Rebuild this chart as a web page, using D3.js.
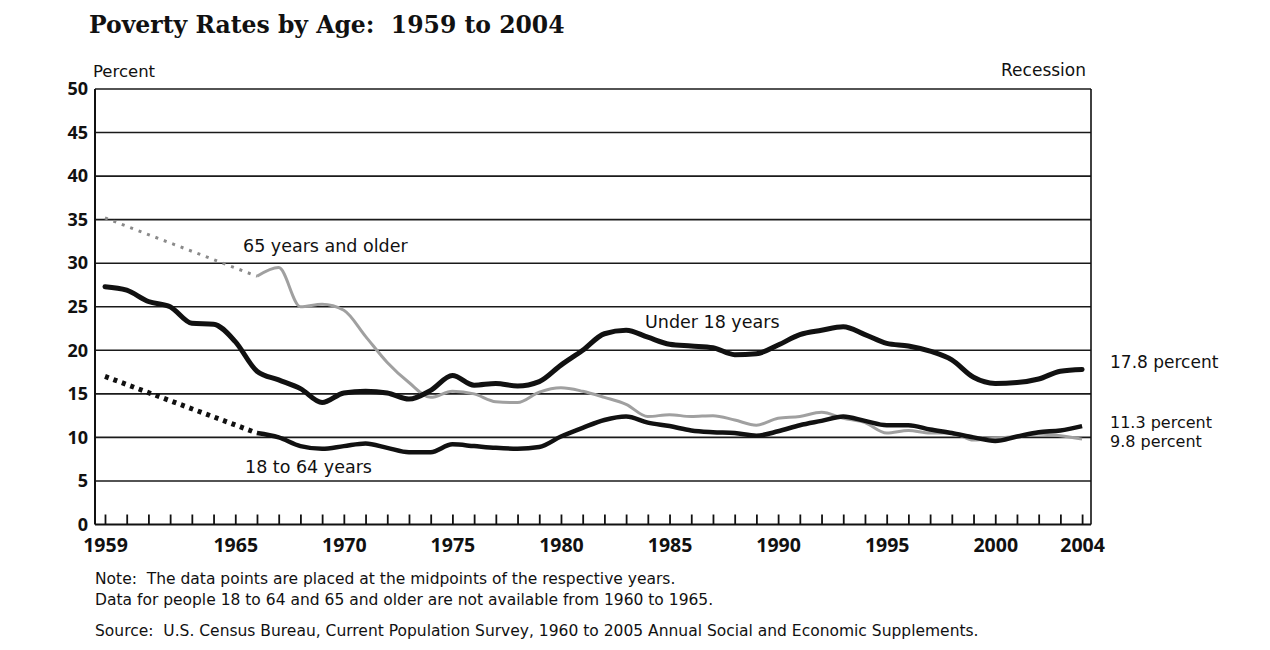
<!DOCTYPE html>
<html lang="en">
<head>
<meta charset="UTF-8">
<title>Poverty Rates by Age</title>
<style>
  body { margin: 0; background: #fff; }
  svg text { font-family: "DejaVu Sans", sans-serif; fill: #111; white-space: pre; }
</style>
</head>
<body>
<svg id="chart" width="1270" height="650"></svg>
<script src="https://d3js.org/d3.v7.min.js"></script>
<script>
// years, one point per year (placed at year midpoints in the original)
var years = d3.range(1959, 2005);

var under18 = [27.3, 26.9, 25.6, 25.0, 23.1, 23.0, 21.0, 17.6, 16.6, 15.6,
  14.0, 15.1, 15.3, 15.1, 14.4, 15.4, 17.1, 16.0, 16.2, 15.9,
  16.4, 18.3, 20.0, 21.9, 22.3, 21.5, 20.7, 20.5, 20.3, 19.5,
  19.6, 20.6, 21.8, 22.3, 22.7, 21.8, 20.8, 20.5, 19.9, 18.9,
  16.9, 16.2, 16.3, 16.7, 17.6, 17.8];

// no data 1960 to 1965 for the two adult groups
var age18to64 = [17.0, null, null, null, null, null, null, 10.5, 10.0, 9.0,
  8.7, 9.0, 9.3, 8.8, 8.3, 8.3, 9.2, 9.0, 8.8, 8.7,
  8.9, 10.1, 11.1, 12.0, 12.4, 11.7, 11.3, 10.8, 10.6, 10.5,
  10.2, 10.7, 11.4, 11.9, 12.4, 11.9, 11.4, 11.4, 10.9, 10.5,
  10.0, 9.6, 10.1, 10.6, 10.8, 11.3];

var age65 = [35.2, null, null, null, null, null, null, 28.5, 29.5, 25.0,
  25.3, 24.6, 21.6, 18.6, 16.3, 14.6, 15.3, 15.0, 14.1, 14.0,
  15.2, 15.7, 15.3, 14.6, 13.8, 12.4, 12.6, 12.4, 12.5, 12.0,
  11.4, 12.2, 12.4, 12.9, 12.2, 11.7, 10.5, 10.8, 10.5, 10.5,
  9.7, 9.9, 10.1, 10.4, 10.2, 9.8];

var yTicks = [0, 5, 10, 15, 20, 25, 30, 35, 40, 45, 50];
var xLabelYears = [1959, 1965, 1970, 1975, 1980, 1985, 1990, 1995, 2000, 2004];

var svg = d3.select('#chart');

var plotLeft = 95, plotRight = 1091, plotTop = 89, plotBottom = 524.5;

var x = d3.scaleLinear().domain([1958.54, 2004.41]).range([plotLeft, plotRight]);
var y = d3.scaleLinear().domain([0, 50]).range([plotBottom, plotTop]);

// title
svg.append('text')
  .attr('x', 89).attr('y', 33)
  .style('font-family', '"DejaVu Serif", serif')
  .style('font-weight', 'bold')
  .style('font-size', '23.5px')
  .text('Poverty Rates by Age:  1959 to 2004');

svg.append('text').attr('x', 93).attr('y', 77)
  .style('font-size', '16.5px').text('Percent');
svg.append('text').attr('x', 1086).attr('y', 76)
  .attr('text-anchor', 'end')
  .style('font-size', '17px').text('Recession');

// gridlines
svg.append('g').selectAll('line')
  .data(yTicks.filter(function (d) { return d > 0; }))
  .join('line')
  .attr('x1', plotLeft).attr('x2', plotRight)
  .attr('y1', function (d) { return y(d); })
  .attr('y2', function (d) { return y(d); })
  .attr('stroke', '#1a1a1a')
  .attr('stroke-width', 1.6);

// side borders
svg.append('line').attr('x1', plotLeft).attr('x2', plotLeft).attr('y1', plotTop).attr('y2', plotBottom)
  .attr('stroke', '#111').attr('stroke-width', 2);
svg.append('line').attr('x1', plotRight).attr('x2', plotRight).attr('y1', plotTop).attr('y2', plotBottom)
  .attr('stroke', '#111').attr('stroke-width', 1.6);

// y axis labels
var yAxis = svg.append('g')
  .attr('transform', 'translate(' + plotLeft + ',0)')
  .call(d3.axisLeft(y).tickValues(yTicks).tickSize(0).tickPadding(7));
yAxis.select('.domain').remove();
yAxis.selectAll('text')
  .style('font-size', '18px').style('font-weight', 'bold')
  .style('font-family', '"Open Sans", sans-serif').attr('fill', '#111');

// x axis, ticks pointing up into the plot
var xAxis = svg.append('g')
  .attr('transform', 'translate(0,' + plotBottom + ')')
  .call(d3.axisBottom(x).tickValues(years).tickSize(-10).tickPadding(14)
    .tickFormat(function (d) { return xLabelYears.indexOf(d) >= 0 ? d : ''; }));
xAxis.select('.domain')
  .attr('d', 'M' + plotLeft + ',0H' + plotRight)
  .attr('stroke', '#111').attr('stroke-width', 2.2);
xAxis.selectAll('.tick line').attr('stroke', '#111').attr('stroke-width', 1.8);
xAxis.selectAll('text')
  .style('font-size', '19.5px').style('font-weight', 'bold')
  .style('font-family', '"Open Sans", sans-serif').attr('fill', '#111');

var line = d3.line()
  .defined(function (d) { return d.v != null; })
  .x(function (d) { return x(d.year); })
  .y(function (d) { return y(d.v); })
  .curve(d3.curveMonotoneX);

var straight = d3.line()
  .x(function (d) { return x(d.year); })
  .y(function (d) { return y(d.v); });

function rows(vals) {
  return years.map(function (yr, i) { return { year: yr, v: vals[i] }; });
}

// dotted bridges over the missing years (1959 to 1966)
function gap(vals) {
  return [{ year: years[0], v: vals[0] }, { year: 1966, v: vals[years.indexOf(1966)] }];
}

var g = svg.append('g').attr('fill', 'none');

g.append('path').datum(gap(age65))
  .attr('d', straight)
  .attr('stroke', '#8a8a8a').attr('stroke-width', 3)
  .attr('stroke-dasharray', '3,6');

g.append('path').datum(rows(age65))
  .attr('d', line)
  .attr('stroke', '#a0a0a0').attr('stroke-width', 3);

g.append('path').datum(gap(age18to64))
  .attr('d', straight)
  .attr('stroke', '#111').attr('stroke-width', 5)
  .attr('stroke-dasharray', '4,5');

g.append('path').datum(rows(age18to64))
  .attr('d', line)
  .attr('stroke', '#111').attr('stroke-width', 4.5)
  .attr('stroke-linejoin', 'round');

g.append('path').datum(rows(under18))
  .attr('d', line)
  .attr('stroke', '#111').attr('stroke-width', 5)
  .attr('stroke-linejoin', 'round').attr('stroke-linecap', 'round');

// series labels
var labels = [
  { t: '65 years and older', x: 243, y: 252, s: 17.5 },
  { t: 'Under 18 years', x: 645, y: 328, s: 17.5 },
  { t: '18 to 64 years', x: 245, y: 473, s: 17.5 },
  { t: '17.8 percent', x: 1110, y: 368, s: 17 },
  { t: '11.3 percent', x: 1110, y: 428, s: 16 },
  { t: '9.8 percent', x: 1110, y: 447, s: 16 }
];
svg.append('g').selectAll('text').data(labels).join('text')
  .attr('x', function (d) { return d.x; })
  .attr('y', function (d) { return d.y; })
  .style('font-size', function (d) { return d.s + 'px'; })
  .text(function (d) { return d.t; });

// notes
var notes = [
  { t: 'Note:  The data points are placed at the midpoints of the respective years.', y: 584 },
  { t: 'Data for people 18 to 64 and 65 and older are not available from 1960 to 1965.', y: 605 },
  { t: 'Source:  U.S. Census Bureau, Current Population Survey, 1960 to 2005 Annual Social and Economic Supplements.', y: 636 }
];
svg.append('g').selectAll('text').data(notes).join('text')
  .attr('x', 95)
  .attr('y', function (d) { return d.y; })
  .style('font-size', '15.5px')
  .text(function (d) { return d.t; });
</script>
</body>
</html>
